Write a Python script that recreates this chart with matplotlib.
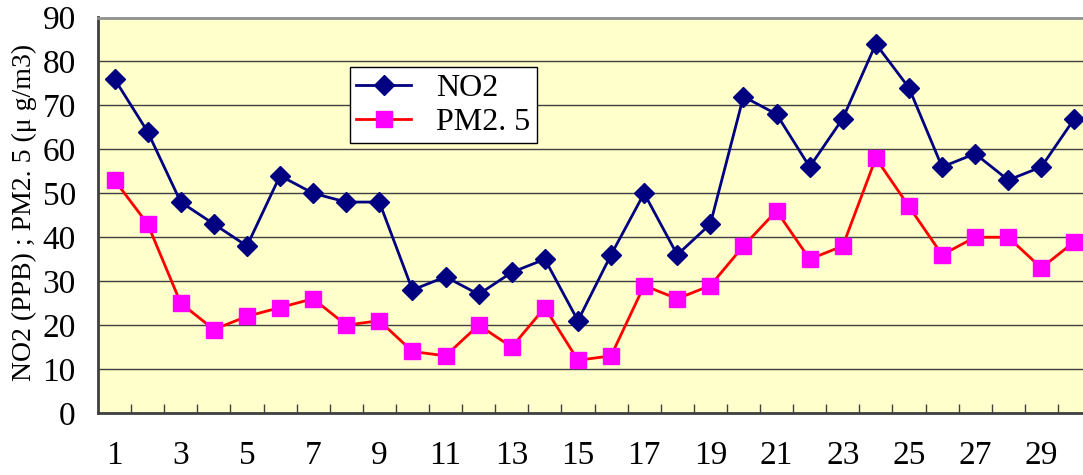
import matplotlib
matplotlib.use("Agg")
import matplotlib.pyplot as plt
import numpy as np

days = list(range(1, 31))
no2 = [76, 64, 48, 43, 38, 54, 50, 48, 48, 28, 31, 27, 32, 35, 21,
       36, 50, 36, 43, 72, 68, 56, 67, 84, 74, 56, 59, 53, 56, 67]
pm25 = [53, 43, 25, 19, 22, 24, 26, 20, 21, 14, 13, 20, 15, 24, 12,
        13, 29, 26, 29, 38, 46, 35, 38, 58, 47, 36, 40, 40, 33, 39]
xtick_labels = [str(d) for d in range(1, 31, 2)]
yticks = list(range(0, 100, 10))

serif = ['Liberation Serif', 'DejaVu Serif']
plt.rcParams['font.family'] = serif

W, H = 1083, 475
fig = plt.figure(figsize=(W / 100, H / 100), dpi=100)
left, right, top, bottom = 98, 1091, 17.5, 413
ax = fig.add_axes([left / W, 1 - bottom / H, (right - left) / W, (bottom - top) / H])
ax.set_facecolor('#FFFFCC')

ax.plot(days, no2, color='#000080', lw=2, marker='D', ms=10,
        markerfacecolor='#000080', markeredgecolor='#000080', label='NO2', zorder=3)
ax.plot(days, pm25, color='#FF0000', lw=2, marker='s', ms=11,
        markerfacecolor='#FF00FF', markeredgecolor='#FF00FF', label='PM2. 5', zorder=3)

ax.set_xlim(0.5, 30.5)
ax.set_ylim(0, 90)
ax.set_yticks(yticks)
ax.set_yticklabels([str(v) for v in yticks])
ax.set_xticks(list(range(1, 31, 2)))
ax.set_xticklabels(xtick_labels)
ax.set_xticks(np.arange(1.5, 30.5, 1.0), minor=True)
ax.tick_params(axis='x', which='major', length=0, pad=20, labelsize=24)
ax.tick_params(axis='x', which='minor', direction='in', length=6.5, width=1, color='#404040')
ax.tick_params(axis='y', which='both', length=0, pad=16, labelsize=24)

ax.grid(axis='y', color='#404040', lw=1, zorder=1)
ax.set_axisbelow(True)

for s in ['left', 'bottom']:
    ax.spines[s].set_color('#404040')
    ax.spines[s].set_linewidth(2)
ax.spines['top'].set_color('#909090')
ax.spines['top'].set_linewidth(2)
ax.spines['right'].set_visible(False)

fig.text(24 / W, 1 - 212 / H, 'NO2 (PPB) ; PM2. 5 (μ g/m3)', rotation=90,
         ha='center', va='center', fontsize=20, family=serif)

leg = ax.legend(loc='upper left', bbox_to_anchor=(350 / W, 1 - 67 / H),
                bbox_transform=fig.transFigure, borderaxespad=0, fancybox=False,
                framealpha=1, edgecolor='black', fontsize=23, handlelength=1.7,
                handletextpad=0.8, labelspacing=0.15, borderpad=0.2)
leg.get_frame().set_linewidth(1)

fig.savefig('out.png', dpi=100)
